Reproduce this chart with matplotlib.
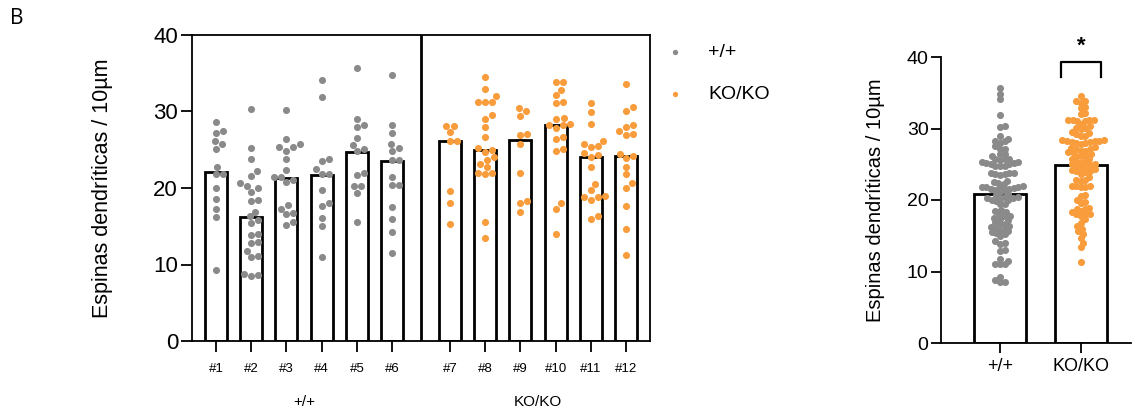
import numpy as np
import matplotlib.pyplot as plt
from matplotlib.transforms import blended_transform_factory

plt.rcParams['font.family'] = ['Liberation Sans', 'DejaVu Sans']

gris = "#8a8a8a"
naranja = "#f89c3c"

# Animales y medias por animal
animales = ["#1", "#2", "#3", "#4", "#5", "#6", "#7", "#8", "#9", "#10", "#11", "#12"]
medias_wt = [22.1, 16.2, 21.3, 21.7, 24.7, 23.5]
medias_ko = [26.1, 25.0, 26.3, 28.2, 24.1, 24.2]

# Espinas por neurona, +/+
puntos_wt = [
    [28.6, 27.2, 27.5, 25.8, 26.2, 25.1, 22.7, 21.8, 21.8, 20.0, 18.6, 17.2, 16.2, 9.3],
    [30.3, 25.2, 23.8, 22.2, 21.6, 20.7, 20.3, 20.0, 19.5, 18.4, 18.3, 16.9, 16.3, 15.8,
     15.4, 14.0, 13.9, 13.0, 12.8, 11.8, 11.1, 11.0, 8.8, 8.6, 8.5],
    [30.2, 26.4, 25.7, 25.3, 25.3, 24.8, 23.8, 22.4, 21.5, 21.4, 21.1, 20.8, 17.8, 17.3,
     16.7, 16.6, 15.6, 15.2],
    [34.1, 31.9, 23.5, 23.8, 22.5, 21.8, 21.8, 19.8, 18.0, 17.7, 16.1, 15.0, 11.0],
    [35.7, 28.2, 28.0, 29.0, 26.5, 25.6, 25.1, 24.8, 21.7, 22.0, 20.3, 20.2, 19.4, 15.5],
    [34.8, 28.2, 27.2, 25.7, 24.8, 25.2, 23.7, 23.6, 21.4, 20.4, 20.4, 17.5, 16.0, 14.2, 11.5],
]

# Espinas por neurona, KO/KO
puntos_ko = [
    [28.1, 28.1, 27.3, 26.2, 26.2, 19.6, 18.0, 15.3],
    [34.5, 33.0, 32.0, 31.2, 31.2, 31.2, 29.5, 29.0, 28.0, 26.7, 25.0, 25.2, 24.7, 24.0,
     23.7, 23.2, 22.7, 22.0, 22.0, 21.8, 15.6, 13.4],
    [30.4, 30.1, 29.4, 27.1, 26.9, 25.8, 21.9, 18.0, 18.3, 16.8],
    [33.9, 33.9, 32.8, 32.2, 31.2, 31.1, 29.2, 29.0, 28.4, 28.3, 28.3, 27.8, 26.7, 26.4,
     25.1, 24.9, 18.0, 17.3, 14.0],
    [31.1, 29.9, 28.4, 26.1, 25.8, 25.3, 25.5, 24.6, 24.3, 24.1, 22.8, 20.5, 19.7, 18.8,
     18.4, 18.9, 18.8, 16.3, 16.0],
    [33.6, 30.6, 30.1, 28.0, 28.3, 27.1, 26.9, 27.4, 24.5, 24.2, 23.9, 22.8, 21.8, 20.7,
     20.0, 17.7, 14.7, 11.3],
]

grupos = ["+/+", "KO/KO"]
medias_total = [20.9, 24.9]


def enjambre(ax, valores, centro, diam):
    # Posiciones x tipo beeswarm, calculadas en pixeles
    trans = ax.transData
    x0 = trans.transform((centro, 0))[0]
    ys = np.array([trans.transform((centro, v))[1] for v in valores])
    colocados = []
    xs = np.zeros(len(valores))
    for i in np.argsort(ys):
        y = ys[i]
        dx = 0.0
        for k in range(200):
            encontrado = False
            for signo in (1, -1):
                dx = signo * k * diam * 0.2
                if all((dx - px) ** 2 + (y - py) ** 2 >= diam ** 2 for px, py in colocados):
                    encontrado = True
                    break
            if encontrado:
                break
        colocados.append((dx, y))
        xs[i] = x0 + dx
    inv = trans.inverted()
    return [inv.transform((x, 0))[0] for x in xs]


fig = plt.figure(figsize=(11.33, 4.16), dpi=100)

# ---------- Panel izquierdo: por animal ----------
ax = fig.add_axes([192 / 1133, 75 / 416, 458 / 1133, 306 / 416])
pos_wt = np.arange(6)
pos_ko = np.arange(6) + 6.64
ax.set_xlim(-0.68, 12.32)
ax.set_ylim(0, 40)

ax.bar(pos_wt, medias_wt, width=0.62, color="white", edgecolor="black", linewidth=2.0, zorder=2)
ax.bar(pos_ko, medias_ko, width=0.62, color="white", edgecolor="black", linewidth=2.0, zorder=2)

for i in range(6):
    xs = enjambre(ax, puntos_wt[i], pos_wt[i], 7.0)
    ax.scatter(xs, puntos_wt[i], s=26, color=gris, linewidths=0, zorder=3,
               label="+/+" if i == 0 else None)
for i in range(6):
    xs = enjambre(ax, puntos_ko[i], pos_ko[i], 7.0)
    ax.scatter(xs, puntos_ko[i], s=26, color=naranja, linewidths=0, zorder=3,
               label="KO/KO" if i == 0 else None)

ax.axvline((pos_wt[-1] + pos_ko[0]) / 2, color="black", linewidth=2.0, zorder=4)

ax.set_xticks(list(pos_wt) + list(pos_ko))
ax.set_xticklabels(animales, fontsize=9.5)
ax.set_yticks([0, 10, 20, 30, 40])
ax.tick_params(axis="y", labelsize=16, length=8, width=1.3, pad=2)
ax.tick_params(axis="x", length=8, width=1.3, pad=8)
for s in ax.spines.values():
    s.set_linewidth(1.3)
ax.set_ylabel("Espinas dendríticas / 10µm", fontsize=15.5)
ax.yaxis.set_label_coords(-0.172, 0.5)

tr = blended_transform_factory(ax.transData, ax.transAxes)
ax.text(pos_wt.mean(), -0.2, grupos[0], transform=tr, ha="center", va="center", fontsize=11)
ax.text(pos_ko.mean(), -0.2, grupos[1], transform=tr, ha="center", va="center", fontsize=11)

ax.legend(loc="upper left", bbox_to_anchor=(1.0, 1.03), frameon=False, fontsize=14,
          markerscale=0.75, handlelength=0.8, handletextpad=1.3, labelspacing=1.25)

# ---------- Panel derecho: total ----------
ax2 = fig.add_axes([941 / 1133, 73 / 416, 190 / 1133, 286 / 416])
ax2.set_xlim(-0.73, 1.62)
ax2.set_ylim(0, 40)

todos_wt = [v for lista in puntos_wt for v in lista]
todos_ko = [v for lista in puntos_ko for v in lista]

ax2.bar([0, 1], medias_total, width=0.65, color="white", edgecolor="black", linewidth=2.0, zorder=2)
ax2.scatter(enjambre(ax2, todos_wt, 0, 4.6), todos_wt, s=26, color=gris, linewidths=0, zorder=3)
ax2.scatter(enjambre(ax2, todos_ko, 1, 4.6), todos_ko, s=26, color=naranja, linewidths=0, zorder=3)

ax2.spines["top"].set_visible(False)
ax2.spines["right"].set_visible(False)
for s in ax2.spines.values():
    s.set_linewidth(1.3)
ax2.set_xticks([0, 1])
ax2.set_xticklabels(grupos, fontsize=13)
ax2.set_yticks([0, 10, 20, 30, 40])
ax2.tick_params(axis="y", labelsize=14, length=7, width=1.3, pad=2)
ax2.tick_params(axis="x", length=7, width=1.3, pad=4)
ax2.set_ylabel("Espinas dendríticas / 10µm", fontsize=14.5)
ax2.yaxis.set_label_coords(-0.295, 0.5)

# Significancia
ax2.plot([0.75, 0.75, 1.25, 1.25], [37.2, 39.3, 39.3, 37.2], color="black", linewidth=1.6, clip_on=False)
ax2.text(1, 40.0, "*", ha="center", va="bottom", fontsize=16, fontweight="bold", clip_on=False)

fig.text(10 / 1133, 1 - 18 / 416, "B", fontsize=15, family=["Open Sans", "DejaVu Sans"], va="center")

fig.savefig("out.png", dpi=100)
